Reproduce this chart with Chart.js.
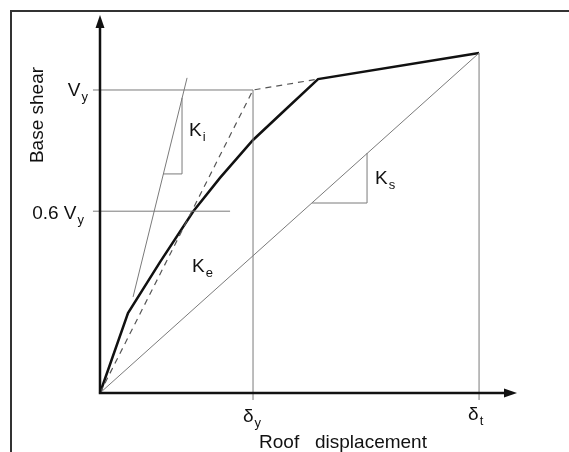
<!DOCTYPE html>
<html>
<head>
<meta charset="utf-8">
<title>Pushover curve</title>
<script src="https://cdn.jsdelivr.net/npm/chart.js@4"></script>
<style>
  html, body { margin: 0; padding: 0; background: #fff; }
  #wrap { width: 569px; height: 452px; }
</style>
</head>
<body>
<div id="wrap"><canvas id="pushover" width="569" height="452"></canvas></div>
<script>
// displacement in units of δy, shear in units of Vy
const curveDisp  = [0, 0.183, 0.392, 0.61, 0.784, 1.0, 1.209, 1.425, 2.477];
const curveShear = [0, 0.264, 0.432, 0.6, 0.710, 0.835, 0.934, 1.036, 1.122];

// idealised bilinear curve (dashed)
const bilinDisp  = [0, 1.0, 1.425];
const bilinShear = [0, 1.0, 1.036];

// initial stiffness Ki and its slope triangle
const kiDisp  = [0.216, 0.569];
const kiShear = [0.317, 1.040];
const kiTriDisp  = [0.412, 0.536, 0.536];
const kiTriShear = [0.723, 0.723, 0.974];

// secant stiffness Ks and its slope triangle
const ksDisp  = [0, 2.477];
const ksShear = [0, 1.122];
const ksTriDisp  = [1.386, 1.745, 1.745];
const ksTriShear = [0.627, 0.627, 0.792];

// reference levels
const deltaY = 1.0;
const deltaT = 2.477;
const vYield = 1.0;
const vSixty = 0.6;
const refStart = -0.046;   // short overhang left of the shear axis
const refDrop  = -0.023;   // short overhang below the displacement axis
const sixtyEnd = 0.85;

const xMax = 2.725;
const yMax = 1.2475;

const pts = (xs, ys) => xs.map((x, i) => ({ x: x, y: ys[i] }));

const thin = '#7a7a7a';

function line(data, color, width, dash) {
  return {
    data: data,
    borderColor: color,
    borderWidth: width,
    borderDash: dash || [],
    showLine: true,
    pointRadius: 0,
    tension: 0,
    fill: false,
    clip: false
  };
}

const FONT = '"Liberation Sans", Arial, sans-serif';

// text with a subscript, e.g. V + y
function subText(ctx, main, sub, x, y, align) {
  ctx.font = '19px ' + FONT;
  const wMain = ctx.measureText(main).width;
  ctx.font = '13px ' + FONT;
  const wSub = ctx.measureText(sub).width;
  const total = wMain + wSub + 1;
  let left = x;
  if (align === 'right') left = x - total;
  if (align === 'center') left = x - total / 2;
  ctx.textAlign = 'left';
  ctx.textBaseline = 'alphabetic';
  ctx.font = '19px ' + FONT;
  ctx.fillText(main, left, y);
  ctx.font = '13px ' + FONT;
  ctx.fillText(sub, left + wMain + 1, y + 5);
}

const diagram = {
  id: 'diagram',
  beforeDatasetsDraw(chart) {
    const ctx = chart.ctx;
    const a = chart.chartArea;
    ctx.save();
    // outer frame
    ctx.strokeStyle = '#333';
    ctx.lineWidth = 2;
    ctx.beginPath();
    ctx.moveTo(11, 452);
    ctx.lineTo(11, 11);
    ctx.lineTo(569, 11);
    ctx.stroke();
    ctx.restore();
  },
  afterDatasetsDraw(chart) {
    const ctx = chart.ctx;
    const a = chart.chartArea;
    const xs = chart.scales.x, ys = chart.scales.y;
    const x0 = xs.getPixelForValue(0), y0 = ys.getPixelForValue(0);
    ctx.save();
    // axes with arrowheads
    ctx.strokeStyle = '#111';
    ctx.fillStyle = '#111';
    ctx.lineWidth = 2.5;
    ctx.beginPath();
    ctx.moveTo(x0, a.top + 8);
    ctx.lineTo(x0, y0);
    ctx.lineTo(a.right - 8, y0);
    ctx.stroke();
    ctx.beginPath();
    ctx.moveTo(x0, a.top);
    ctx.lineTo(x0 - 4.5, a.top + 13);
    ctx.lineTo(x0 + 4.5, a.top + 13);
    ctx.closePath();
    ctx.fill();
    ctx.beginPath();
    ctx.moveTo(a.right, y0);
    ctx.lineTo(a.right - 13, y0 - 4.5);
    ctx.lineTo(a.right - 13, y0 + 4.5);
    ctx.closePath();
    ctx.fill();

    // labels
    subText(ctx, 'V', 'y', x0 - 12, ys.getPixelForValue(vYield) + 6, 'right');
    subText(ctx, '0.6 V', 'y', x0 - 16, ys.getPixelForValue(vSixty) + 8, 'right');
    subText(ctx, 'K', 'i', xs.getPixelForValue(0.582), ys.getPixelForValue(0.848), 'left');
    subText(ctx, 'K', 'e', xs.getPixelForValue(0.601), ys.getPixelForValue(0.399), 'left');
    subText(ctx, 'K', 's', xs.getPixelForValue(1.797), ys.getPixelForValue(0.690), 'left');
    subText(ctx, 'δ', 'y', xs.getPixelForValue(deltaY) - 10, y0 + 29, 'left');
    subText(ctx, 'δ', 't', xs.getPixelForValue(deltaT) - 11, y0 + 27, 'left');

    ctx.font = '19px ' + FONT;
    ctx.textAlign = 'center';
    ctx.textBaseline = 'alphabetic';
    ctx.fillText('Roof   displacement', 343, 448);
    ctx.translate(43, 115);
    ctx.rotate(-Math.PI / 2);
    ctx.fillText('Base shear', 0, 0);
    ctx.restore();
  }
};

new Chart(document.getElementById('pushover'), {
  type: 'scatter',
  data: {
    datasets: [
      line(pts([refStart, deltaY], [vYield, vYield]), thin, 1),
      line(pts([refStart, sixtyEnd], [vSixty, vSixty]), thin, 1),
      line(pts([deltaY, deltaY], [refDrop, vYield]), thin, 1),
      line(pts([deltaT, deltaT], [refDrop, ksShear[1]]), thin, 1),
      line(pts(ksDisp, ksShear), thin, 1),
      line(pts(ksTriDisp, ksTriShear), thin, 1),
      line(pts(kiDisp, kiShear), thin, 1),
      line(pts(kiTriDisp, kiTriShear), thin, 1),
      line(pts(bilinDisp, bilinShear), '#555', 1.2, [6, 5]),
      line(pts(curveDisp, curveShear), '#111', 2.5)
    ]
  },
  options: {
    responsive: false,
    animation: false,
    layout: { padding: { left: 100, right: 52, top: 15, bottom: 59 } },
    plugins: { legend: { display: false }, tooltip: { enabled: false } },
    scales: {
      x: { type: 'linear', min: 0, max: xMax, display: false },
      y: { type: 'linear', min: 0, max: yMax, display: false }
    }
  },
  plugins: [diagram]
});
</script>
</body>
</html>
